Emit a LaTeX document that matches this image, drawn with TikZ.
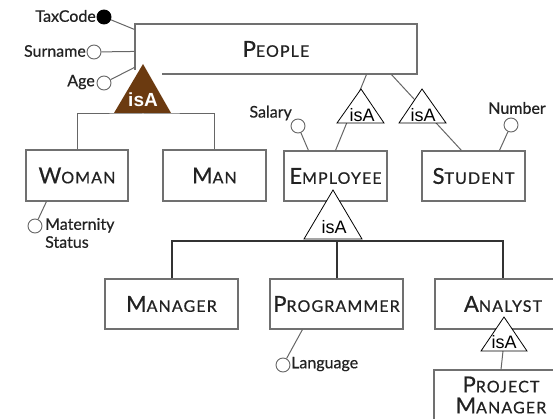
\documentclass[tikz,border=0pt]{standalone}
\usepackage{fontspec}
\setmainfont{Lato}[FakeBold=0.6]
\newfontfamily\boxfont{Lato}[LetterSpace=7,FakeBold=0.6]
\newfontfamily\arialf{Liberation Sans}
\usetikzlibrary{calc}
\newcommand\fsc[2]{{\boxfont\fontsize{22}{22}\selectfont #1}{\boxfont\fontsize{16}{16}\selectfont #2}}
\definecolor{brownisa}{HTML}{6B3A10}
\definecolor{linegray}{HTML}{666666}
\definecolor{boxgray}{HTML}{707070}
\definecolor{txt}{HTML}{222222}
\begin{document}
\begin{tikzpicture}[x=1pt,y=-1pt,
  box/.style={draw=boxgray, line width=1.1pt, fill=white, inner sep=0pt, text=txt},
  conn/.style={draw=linegray, line width=1pt},
  barconn/.style={draw=black!80, line width=2pt},
  attr/.style={circle, draw=linegray, line width=0.9pt, fill=white, minimum size=14pt, inner sep=0pt},
  keyattr/.style={attr, fill=black, draw=black},
  lbl/.style={font=\fontsize{16}{18}\selectfont, inner sep=0pt, text=txt},
  tri/.style={draw=black, line width=0.8pt, fill=white},
  isalbl/.style={font=\arialf\fontsize{18}{18}\selectfont, inner sep=0pt}
]
\useasboundingbox (0,0) rectangle (553,419);
\clip (0,0) rectangle (553,419);

% boxes
\node[box, minimum width=282pt, minimum height=50pt] (people) at (276,49) {\fsc{P}{EOPLE}};
\node[box, minimum width=102pt, minimum height=51pt] (woman) at (77,175.5) {\fsc{W}{OMAN}};
\node[box, minimum width=103pt, minimum height=51pt] (man) at (214.5,175.5) {\fsc{M}{AN}};
\node[box, minimum width=103pt, minimum height=50pt] (employee) at (335.5,176) {\fsc{E}{MPLOYEE}};
\node[box, minimum width=103pt, minimum height=50pt] (student) at (473.5,176) {\fsc{S}{TUDENT}};
\node[box, minimum width=133pt, minimum height=50pt] (manager) at (171.5,304) {\fsc{M}{ANAGER}};
\node[box, minimum width=133pt, minimum height=50pt] (programmer) at (336.5,304) {\fsc{P}{ROGRAMMER}};
\node[box, minimum width=136pt, minimum height=50pt] (analyst) at (503,304) {\fsc{A}{NALYST}};
\node[box, minimum width=134pt, minimum height=70pt] (pm) at (501,405) {};
\node[text=txt, align=center, inner sep=0pt, font=\fontsize{22}{21}\selectfont] (pmlbl) at (501,395) {\fsc{P}{ROJECT}\\\fsc{M}{ANAGER}};

% connectors (drawn behind triangles)
\draw[conn] ($(people.south west)+(232,0)$) -- (employee.north);
\draw[conn] ($(people.south west)+(257,0)$) -- ($(student.north west)+(40,0)$);
\draw[conn] (woman.north) |- (143,114) -| (man.north);
\draw[barconn] (manager.north) |- (334,241) -| (analyst.north);
\draw[barconn] (programmer.north) -- (programmer.north |- 0,241);
\draw[conn] (analyst.south |- 0,351) -- (pm.north);

% white patch under the brown triangle
\fill[white] (129,70) rectangle (162,80);

% triangles
\coordinate (tA) at (143,64); \coordinate (tAl) at (114,113); \coordinate (tAr) at (171,113);
\fill[brownisa] (tA) -- (tAl) -- (tAr) -- cycle;
\node[isalbl, text=white, font=\arialf\bfseries\fontsize{19}{19}\selectfont] (isaA) at (143,100) {isA};

\coordinate (tB) at (361,89); \coordinate (tBl) at (337,123); \coordinate (tBr) at (384,123);
\draw[tri] (tB) -- (tBl) -- (tBr) -- cycle;
\node[isalbl] (isaB) at (362,115) {isA};

\coordinate (tC) at (422,89); \coordinate (tCl) at (399,123); \coordinate (tCr) at (446,123);
\draw[tri] (tC) -- (tCl) -- (tCr) -- cycle;
\node[isalbl] (isaC) at (423,115) {isA};

\coordinate (tD) at (333,190); \coordinate (tDl) at (304,239); \coordinate (tDr) at (362,239);
\draw[tri] (tD) -- (tDl) -- (tDr) -- cycle;
\node[isalbl] (isaD) at (334,227) {isA};

\coordinate (tE) at (504,317); \coordinate (tEl) at (481,351); \coordinate (tEr) at (527,351);
\draw[tri] (tE) -- (tEl) -- (tEr) -- cycle;
\node[isalbl] (isaE) at (504,342) {isA};

% attributes
\node[keyattr] (taxcode) at (104,17) {};
\node[lbl, anchor=east] (taxcodelbl) at (96,16) {TaxCode};
\draw[conn] (taxcode) -- ($(people.north west)+(0,6)$);

\node[attr] (surname) at (94,52) {};
\node[lbl, anchor=east] (surnamelbl) at (86,51) {Surname};
\draw[conn] (surname) -- ($(people.north west)+(0,28)$);

\node[attr] (age) at (104,83) {};
\node[lbl, anchor=east] (agelbl) at (95,82) {Age};
\draw[conn] (age) -- ($(people.north west)+(0,44)$);

\node[attr] (salary) at (298,126) {};
\node[lbl, anchor=east] (salarylbl) at (292,113) {Salary};
\draw[conn] (salary) -- ($(employee.north west)+(25,0)$);

\node[attr] (number) at (511,125) {};
\node[lbl] (numberlbl) at (517,108) {Number};
\draw[conn] (number) -- ($(student.north west)+(78,0)$);

\node[attr] (maternity) at (35,226) {};
\node[lbl, anchor=west, align=left] (maternitylbl) at (45,233) {Maternity\\Status};
\draw[conn] ($(woman.south west)+(21,0)$) -- (maternity);

\node[attr] (language) at (283,365) {};
\node[lbl, anchor=west] (languagelbl) at (291,364) {Language};
\draw[conn] ($(programmer.south west)+(33,0)$) -- (language);
\end{tikzpicture}
\end{document}
